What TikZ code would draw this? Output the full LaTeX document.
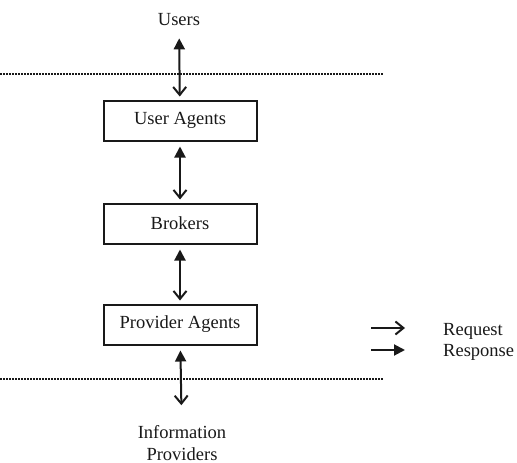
\documentclass[tikz,border=0pt]{standalone}
\usepackage{fontspec}
\setmainfont{Liberation Serif}
\usetikzlibrary{arrows.meta}
\definecolor{ink}{gray}{0.1}
\tikzset{
  layer/.style={draw=ink, line width=2pt, minimum width=153pt, minimum height=40pt, inner sep=0pt},
  label text/.style={text=ink, inner sep=0pt},
  biarrow/.style={draw=ink, line width=2pt, shorten <=5pt, shorten >=3pt,
    {Triangle[length=11pt,width=11pt]}-{Straight Barb[length=8pt,width=13pt]}},
  boundary/.style={draw=ink, line width=1.6pt, dash pattern=on 1.5pt off 1.5pt}
}
\begin{document}
\begin{tikzpicture}[x=1pt, y=-1pt, font=\fontsize{18.5}{22}\selectfont]
            \useasboundingbox (0,0) rectangle (517,463);

            % Define nodes
            \node[label text] (users) at (179,20) {Users};
            \node[layer, text=ink] (ua) at (180,120.5) {User Agents};
            \node[layer, text=ink] (brokers) at (180,223.5) {Brokers};
            \node[layer, text=ink] (pa) at (180,324.5) {Provider Agents};
            \node[label text, align=center] (ip) at (182,443) {Information\\Providers};

            % Draw edges
            \draw[biarrow, shorten <=12pt] (users) -- (ua);
            \draw[biarrow] (ua) -- (brokers);
            \draw[biarrow] (brokers) -- (pa);
            \draw[biarrow, shorten >=20pt] (pa) -- (ip);

            % Boundaries
            \draw[boundary] (0,74) -- (383,74);
            \draw[boundary] (0,379) -- (383,379);

            % Legend
            \coordinate (rq1) at (371,328);
            \coordinate (rq2) at (405,328);
            \coordinate (rs1) at (371,350);
            \coordinate (rs2) at (405,350);
            \node[label text, anchor=west] (rq) at (443,331) {Request};
            \node[label text, anchor=west] (rs) at (443,352) {Response};
            \draw[draw=ink, line width=2pt, -{Straight Barb[length=8pt,width=13pt]}] (rq1) -- (rq2);
            \draw[draw=ink, line width=2pt, -{Triangle[length=11pt,width=11pt]}] (rs1) -- (rs2);

        \end{tikzpicture}
\end{document}
